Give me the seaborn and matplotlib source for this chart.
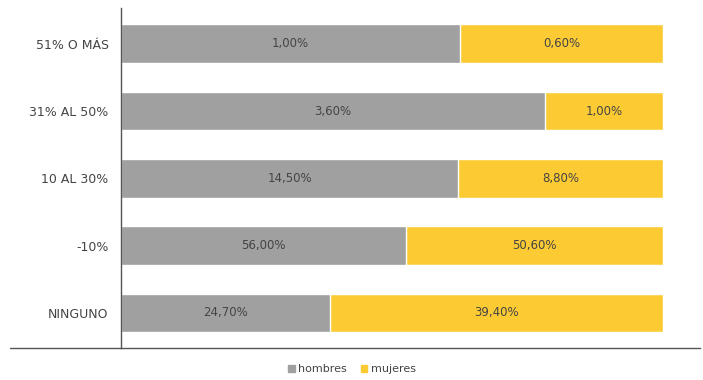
import matplotlib
matplotlib.use("Agg")
import matplotlib.pyplot as plt
import seaborn as sns
import pandas as pd
from matplotlib.patches import Patch
from matplotlib.lines import Line2D

categories = ["51% O MÁS", "31% AL 50%", "10 AL 30%", "-10%", "NINGUNO"]
hombres = [1.00, 3.60, 14.50, 56.00, 24.70]
mujeres = [0.60, 1.00, 8.80, 50.60, 39.40]
hombres_labels = ["1,00%", "3,60%", "14,50%", "56,00%", "24,70%"]
mujeres_labels = ["0,60%", "1,00%", "8,80%", "50,60%", "39,40%"]

GRAY = "#a0a0a0"
YELLOW = "#fccb34"
TXT = "#444444"

sns.set_theme(style="white")
plt.rcParams['font.family'] = ['DejaVu Sans']

tot = [h + m for h, m in zip(hombres, mujeres)]
df = pd.DataFrame({
    "cat": categories,
    "h": [h / t for h, t in zip(hombres, tot)],
    "all": [1.0] * len(categories),
})

fig = plt.figure(figsize=(7.03, 3.80), dpi=100)
W, H = 703, 380
ax = fig.add_axes([121 / W, 1 - 348 / H, (700 - 121) / W, (348 - 8) / H])

sns.barplot(data=df, y="cat", x="all", color=YELLOW, orient="h", width=0.57,
            ax=ax, saturation=1, errorbar=None)
sns.barplot(data=df, y="cat", x="h", color=GRAY, orient="h", width=0.57,
            ax=ax, saturation=1, errorbar=None)

ax.set_xlim(0, 579 / 542)
ax.set_ylim(4.52, -0.53)
ax.set_xlabel("")
ax.set_ylabel("")
ax.set_xticks([])
ax.tick_params(axis="y", length=0, pad=9, labelsize=9, labelcolor=TXT)
for s in ["top", "right"]:
    ax.spines[s].set_visible(False)
for s in ["left", "bottom"]:
    ax.spines[s].set_color("#555555")
    ax.spines[s].set_linewidth(1.0)

fig.add_artist(Line2D([10 / W, 121 / W], [1 - 348 / H, 1 - 348 / H],
                      color="#555555", linewidth=1.0))

for i, (hs, hl, ml) in enumerate(zip(df["h"], hombres_labels, mujeres_labels)):
    ax.text(hs / 2, i, hl, ha="center", va="center", fontsize=8.5, color=TXT)
    ax.text(hs + (1 - hs) / 2, i, ml, ha="center", va="center", fontsize=8.5, color=TXT)

handles = [Patch(color=GRAY, label="hombres"), Patch(color=YELLOW, label="mujeres")]
fig.legend(handles=handles, loc="center", bbox_to_anchor=(352 / W, 1 - 369 / H),
           ncol=2, frameon=False, fontsize=8, handlelength=0.6, handleheight=0.6,
           handletextpad=0.3, columnspacing=1.2, labelcolor=TXT)

fig.savefig("out.png", dpi=100)
